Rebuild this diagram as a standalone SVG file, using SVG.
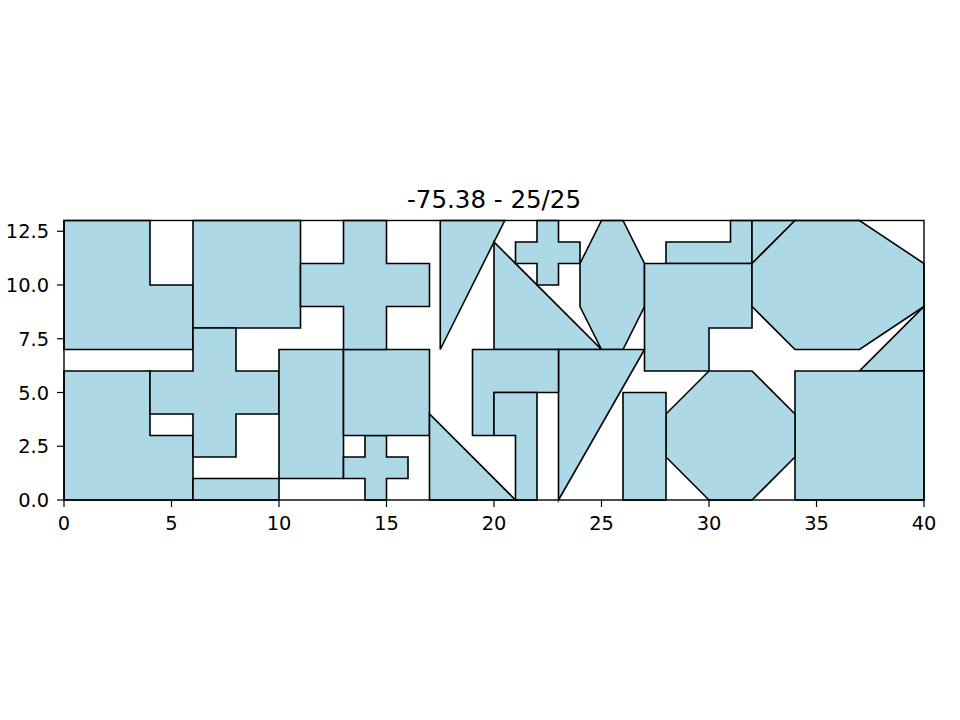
<svg xmlns="http://www.w3.org/2000/svg" width="960" height="720" viewBox="0 0 960 720">
<style>
.p{fill:#add8e6;stroke:#000;stroke-width:1.6;stroke-linejoin:miter;vector-effect:non-scaling-stroke}
.t{font-family:"DejaVu Sans",sans-serif;font-size:19.4px;fill:#000}
.tk{stroke:#000;stroke-width:1.2}
</style>
<rect width="960" height="720" fill="#fff"/>
<g id="pieces" transform="translate(64,500) scale(21.5,-21.5)">
<polygon id="n1" class="p" points="0,7 6,7 6,10 4,10 4,13 0,13"/>
<polygon id="n2" class="p" points="6,8 11,8 11,13 6,13"/>
<polygon id="n3" class="p" points="0,0 6,0 6,3 4,3 4,6 0,6"/>
<polygon id="n4" class="p" points="6,2 8,2 8,4 10,4 10,6 8,6 8,8 6,8 6,6 4,6 4,4 6,4"/>
<polygon id="n5" class="p" points="6,0 10,0 10,1 6,1"/>
<polygon id="n6" class="p" points="10,1 13,1 13,7 10,7"/>
<polygon id="n7" class="p" points="14,0 15,0 15,1 16,1 16,2 15,2 15,3 14,3 14,2 13,2 13,1 14,1"/>
<polygon id="n8" class="p" points="13,3 17,3 17,7 13,7"/>
<polygon id="n9" class="p" points="13,7 15,7 15,9 17,9 17,11 15,11 15,13 13,13 13,11 11,11 11,9 13,9"/>
<polygon id="n10" class="p" points="17.5,7 20.5,13 17.5,13"/>
<polygon id="n11" class="p" points="20,7 25,7 20,12"/>
<polygon id="n12" class="p" points="22,10 23,10 23,11 24,11 24,12 23,12 23,13 22,13 22,12 21,12 21,11 22,11"/>
<polygon id="n13" class="p" points="25,7 26,7 27,9 27,11 26,13 25,13 24,11 24,9"/>
<polygon id="n14" class="p" points="28,11 32,11 32,13 31,13 31,12 28,12"/>
<polygon id="n15" class="p" points="27,6 30,6 30,8 32,8 32,11 27,11"/>
<polygon id="n16" class="p" points="32,11 34,13 32,13"/>
<polygon id="n17" class="p" points="34,7 37,7 40,9 40,11 37,13 34,13 32,11 32,9"/>
<polygon id="n18" class="p" points="37,6 40,6 40,9"/>
<polygon id="n19" class="p" points="34,0 40,0 40,6 34,6"/>
<polygon id="n20" class="p" points="30,0 32,0 34,2 34,4 32,6 30,6 28,4 28,2"/>
<polygon id="n21" class="p" points="26,0 28,0 28,5 26,5"/>
<polygon id="n22" class="p" points="23,0 27,7 23,7"/>
<polygon id="n23" class="p" points="19,3 20,3 20,5 23,5 23,7 19,7"/>
<polygon id="n24" class="p" points="20,3 21,3 21,0 22,0 22,5 20,5"/>
<polygon id="n25" class="p" points="17,0 21,0 17,4"/>
</g>
<g id="axes">
<rect x="64" y="220.5" width="860" height="279.5" fill="none" stroke="#000" stroke-width="1.4"/>
<g class="tk">
<line x1="64" y1="500" x2="64" y2="507"/>
<line x1="171.5" y1="500" x2="171.5" y2="507"/>
<line x1="279" y1="500" x2="279" y2="507"/>
<line x1="386.5" y1="500" x2="386.5" y2="507"/>
<line x1="494" y1="500" x2="494" y2="507"/>
<line x1="601.5" y1="500" x2="601.5" y2="507"/>
<line x1="709" y1="500" x2="709" y2="507"/>
<line x1="816.5" y1="500" x2="816.5" y2="507"/>
<line x1="924" y1="500" x2="924" y2="507"/>
<line x1="57" y1="500" x2="64" y2="500"/>
<line x1="57" y1="446.25" x2="64" y2="446.25"/>
<line x1="57" y1="392.5" x2="64" y2="392.5"/>
<line x1="57" y1="338.75" x2="64" y2="338.75"/>
<line x1="57" y1="285" x2="64" y2="285"/>
<line x1="57" y1="231.25" x2="64" y2="231.25"/>
</g>
<g class="t" text-anchor="middle">
<text x="64" y="529.5">0</text>
<text x="171.5" y="529.5">5</text>
<text x="279" y="529.5">10</text>
<text x="386.5" y="529.5">15</text>
<text x="494" y="529.5">20</text>
<text x="601.5" y="529.5">25</text>
<text x="709" y="529.5">30</text>
<text x="816.5" y="529.5">35</text>
<text x="924" y="529.5">40</text>
</g>
<g class="t" text-anchor="end">
<text x="49" y="507.1">0.0</text>
<text x="49" y="453.35">2.5</text>
<text x="49" y="399.6">5.0</text>
<text x="49" y="345.85">7.5</text>
<text x="49" y="292.1">10.0</text>
<text x="49" y="238.35">12.5</text>
</g>
<text x="494" y="207.5" text-anchor="middle" style="font-family:'DejaVu Sans',sans-serif;font-size:24.5px;fill:#000">-75.38 - 25/25</text>
</g>
</svg>
